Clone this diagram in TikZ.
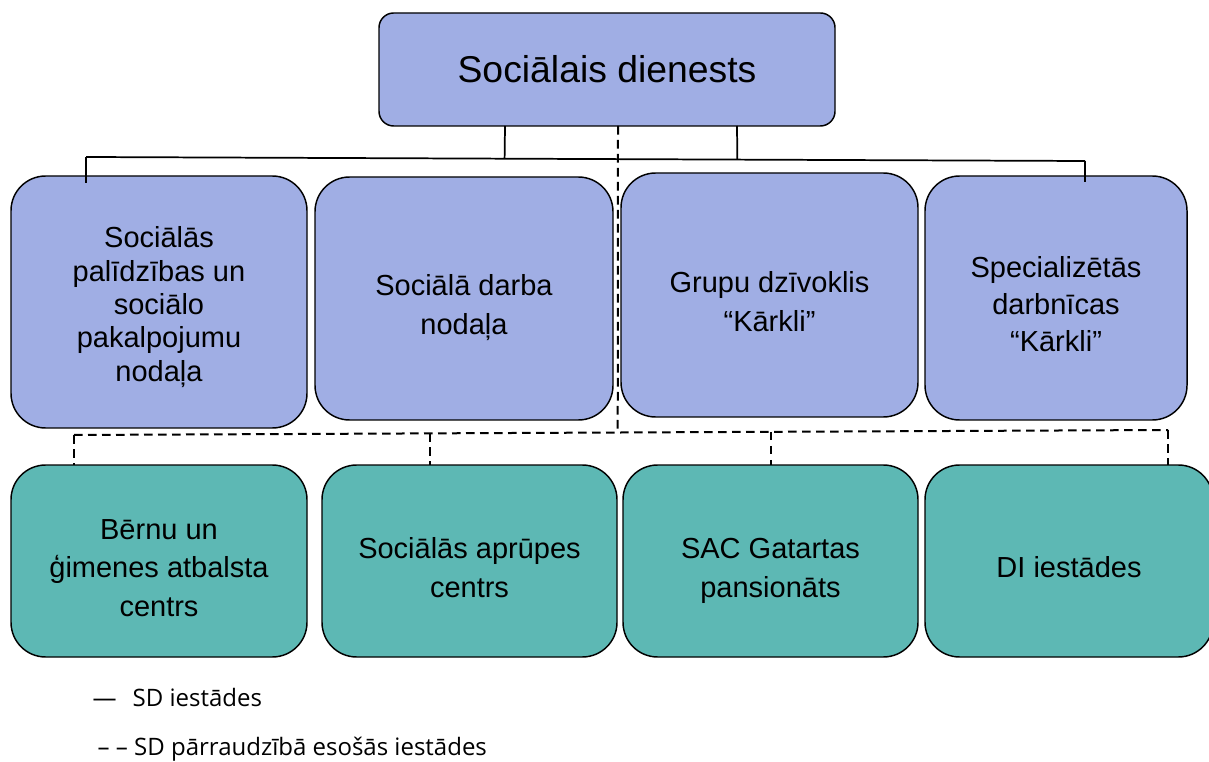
\documentclass[tikz,border=0pt]{standalone}
\usepackage{fontspec}
\setmainfont{Liberation Sans}
\newfontfamily\legendfont{Open Sans}
\usetikzlibrary{positioning,calc}
\definecolor{deptblue}{HTML}{A0AEE4}
\definecolor{instteal}{HTML}{5DB8B4}
\tikzset{
  orgbox/.style={draw, line width=1.1pt, rounded corners=26pt, align=center,
    inner sep=0pt, outer sep=0pt, font=\fontsize{21.75}{29}\selectfont},
  headbox/.style={orgbox, fill=deptblue, rounded corners=11pt, font=\fontsize{28}{32}\selectfont},
  dept/.style={orgbox, fill=deptblue},
  inst/.style={orgbox, fill=instteal},
  sdline/.style={line width=1.3pt},
  subline/.style={line width=1.5pt, dash pattern=on 6.5pt off 4pt},
  legend/.style={anchor=west, font=\legendfont\fontsize{18}{22}\selectfont}
}
\newcommand{\onode}[4]{\node [#1] (#2) at (#3) {#4}}
\newcommand{\btext}[2][6.75pt]{\raisebox{-#1}[\height][\depth]{\begin{tabular}{@{}c@{}}#2\end{tabular}}}

\begin{document}
\begin{tikzpicture}[x=0.75pt, y=-0.75pt]
\useasboundingbox (0,0) rectangle (1209,762);

% head
\onode{headbox, minimum width=342pt, minimum height=84.75pt}{SD}{607,69.5}{Sociālais dienests};

% SD iestades
\onode{dept, minimum width=222pt, minimum height=189pt, font=\fontsize{21.75}{25}\selectfont}{SPPN}{159,302}{\btext[4.5pt]{Sociālās\\palīdzības un\\sociālo\\pakalpojumu\\nodaļa}};
\onode{dept, minimum width=223.5pt, minimum height=182.25pt}{SDN}{464,298.5}{\btext{Sociālā darba\\nodaļa}};
\onode{dept, minimum width=222.75pt, minimum height=183pt}{GDK}{769.5,295}{\btext{Grupu dzīvoklis\\“Kārkli”}};
\onode{dept, minimum width=196.5pt, minimum height=183pt, font=\fontsize{21.75}{27.75}\selectfont}{SDK}{1056,298}{\btext{Specializētās\\darbnīcas\\“Kārkli”}};

% parraudziba
\onode{inst, minimum width=222pt, minimum height=144pt}{BGAC}{159,561}{\btext{Bērnu un\\ģimenes atbalsta\\centrs}};
\onode{inst, minimum width=221.25pt, minimum height=144pt}{SAC}{469.5,561}{\btext{Sociālās aprūpes\\centrs}};
\onode{inst, minimum width=221.25pt, minimum height=144pt}{GP}{770.5,561}{\btext{SAC Gatartas\\pansionāts}};
\onode{inst, minimum width=216pt, minimum height=144pt}{DI}{1069,561}{\btext{DI iestādes}};

% solid lines
\coordinate (barL) at (86,157);
\coordinate (barR) at (1085,161);
\draw[sdline] (barL) -- (barR);
\draw[sdline] ($(SD.south)+(-102,0)$) -- ($(barL)!0.419!(barR)$);
\draw[sdline] ($(SD.south)+(130,0)$) -- ($(barL)!0.652!(barR)$);
\draw[sdline] (barL) -- ($(SPPN.north)+(-73,7)$);
\draw[sdline] (barR) -- ($(SDK.north)+(29,6)$);

% dashed lines
\coordinate (dashL) at (74,435);
\coordinate (dashR) at (1168,430);
\coordinate (d2) at ($(dashL)!0.325!(dashR)$);
\coordinate (d3) at ($(dashL)!0.637!(dashR)$);
\draw[subline] (dashL) -- (dashR);
\draw[subline] ($(SD.south)+(11,0)$) -- ($(dashL)!0.497!(dashR)$);
\draw[subline] (dashL) -- (dashL |- BGAC.north);
\draw[subline] (d2) -- (d2 |- SAC.north);
\draw[subline] (d3) -- (d3 |- GP.north);
\draw[subline] (dashR) -- (dashR |- DI.north);

% legend
\node[legend] (leg1) at (88,697) {—\hspace{12pt}SD iestādes};
\node[legend] (leg2) at (93,749) {– – SD pārraudzībā esošās iestādes};

\end{tikzpicture}
\end{document}
